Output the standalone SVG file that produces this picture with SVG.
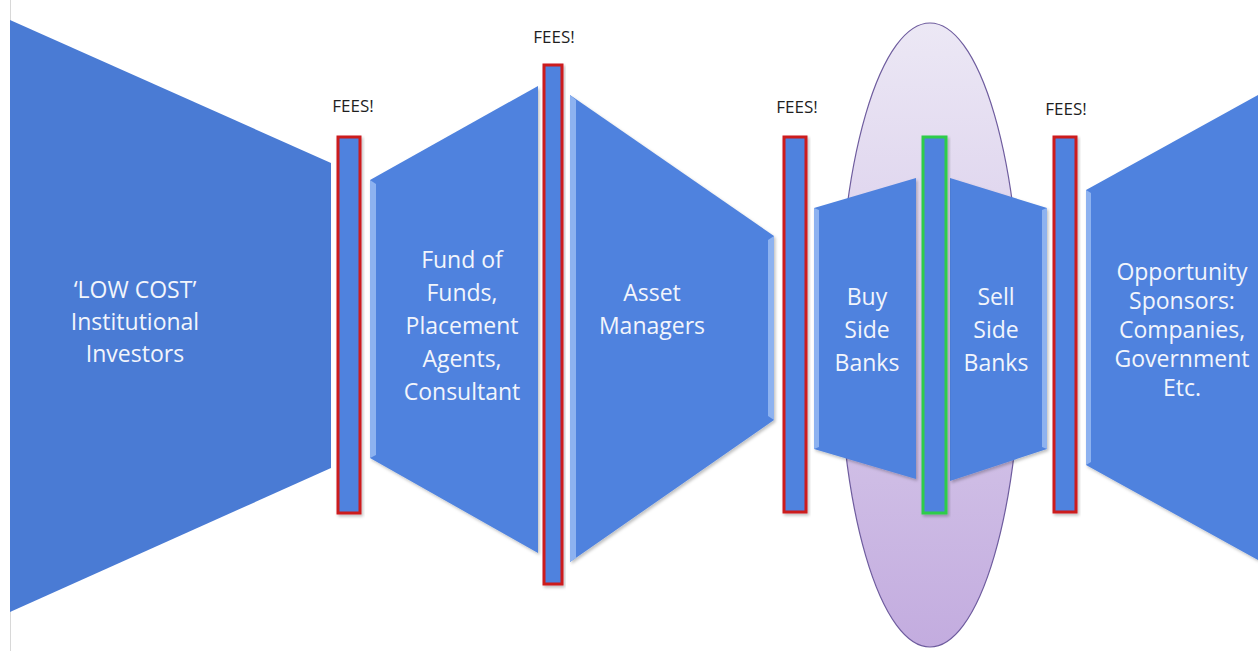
<svg xmlns="http://www.w3.org/2000/svg" width="1258" height="651" viewBox="0 0 1258 651">
<defs>
<linearGradient id="ellG" x1="0" y1="0" x2="0" y2="1">
<stop offset="0" stop-color="#ece8f5"/>
<stop offset="1" stop-color="#c3acdf"/>
</linearGradient>
<filter id="sh" x="-10%" y="-10%" width="130%" height="130%">
<feDropShadow dx="1.5" dy="2" stdDeviation="1.5" flood-color="#000" flood-opacity="0.25"/>
</filter>
<style>
.blk{fill:#4a7bd4;}
.trap{fill:#4f82de;filter:url(#sh);}
.bev{fill:#8db2f0;}
.bar{fill:#4f82de;stroke-width:3;filter:url(#sh);}
.red{stroke:#cc1a1f;}
.grn{stroke:#2ecc4a;}
.lbl{font-family:"Open Sans","Noto Sans",sans-serif;fill:#f2f5fc;text-anchor:middle;font-size:23px;}
.fee{font-family:"Open Sans","Noto Sans",sans-serif;fill:#1f1f1f;font-size:17px;text-anchor:middle;}
</style>
</defs>
<rect width="1258" height="651" fill="#ffffff"/>
<line x1="10.5" y1="0" x2="10.5" y2="651" stroke="#d8d8d8" stroke-width="1"/>

<g id="ellipse-banks">
<ellipse cx="930" cy="335" rx="91" ry="312" fill="url(#ellG)" stroke="#6e5c9e" stroke-width="1.2"/>
</g>

<g id="node-investors">
<polygon class="blk" points="10,20 331,163 331,468 10,612"/>
<text class="lbl" font-size="24" x="135" y="298">‘LOW COST’</text>
<text class="lbl" font-size="24" x="135" y="330">Institutional</text>
<text class="lbl" font-size="24" x="135" y="362">Investors</text>
</g>

<g id="node-fund">
<polygon class="trap" points="370,180 538,86 538,553 370,458"/>
<polygon class="bev" points="370,180 376,184 376,455 370,458"/>
<text class="lbl" x="462" y="268">Fund of</text>
<text class="lbl" x="462" y="301">Funds,</text>
<text class="lbl" x="462" y="334">Placement</text>
<text class="lbl" x="462" y="367">Agents,</text>
<text class="lbl" x="462" y="400">Consultant</text>
</g>

<g id="node-asset">
<polygon class="trap" points="570,95 774,236 774,420 570,562"/>
<polygon class="bev" points="570,95 576,100 576,558 570,562"/>
<polygon class="bev" points="768,240 774,236 774,420 768,416"/>
<text class="lbl" x="652" y="301">Asset</text>
<text class="lbl" x="652" y="334">Managers</text>
</g>

<g id="node-buy">
<polygon class="trap" points="814,208 916,178 916,479 814,449"/>
<polygon class="bev" points="814,208 819,210 819,447 814,449"/>
<text class="lbl" x="867" y="305">Buy</text>
<text class="lbl" x="867" y="338">Side</text>
<text class="lbl" x="867" y="371">Banks</text>
</g>

<g id="node-sell">
<polygon class="trap" points="950,178 1047,208 1047,449 950,481"/>
<polygon class="bev" points="1042,210 1047,208 1047,449 1042,447"/>
<text class="lbl" x="996" y="305">Sell</text>
<text class="lbl" x="996" y="338">Side</text>
<text class="lbl" x="996" y="371">Banks</text>
</g>

<g id="node-sponsors">
<polygon class="trap" points="1086,190 1258,95 1258,560 1086,465"/>
<polygon class="bev" points="1086,190 1091,193 1091,462 1086,465"/>
<text class="lbl" font-size="21" x="1182" y="280">Opportunity</text>
<text class="lbl" font-size="21" x="1182" y="309">Sponsors:</text>
<text class="lbl" font-size="21" x="1182" y="338">Companies,</text>
<text class="lbl" font-size="21" x="1182" y="367">Government</text>
<text class="lbl" font-size="21" x="1182" y="396">Etc.</text>
</g>

<g id="fee-1">
<rect class="bar red" x="338" y="137" width="22" height="376"/>
<text class="fee" x="353" y="112">FEES!</text>
</g>
<g id="fee-2">
<rect class="bar red" x="544" y="65" width="18" height="519"/>
<text class="fee" x="554" y="43">FEES!</text>
</g>
<g id="fee-3">
<rect class="bar red" x="784" y="137" width="22" height="375"/>
<text class="fee" x="797" y="113">FEES!</text>
</g>
<g id="fee-bank">
<rect class="bar grn" x="923" y="137" width="23" height="376"/>
</g>
<g id="fee-4">
<rect class="bar red" x="1054" y="137" width="22" height="375"/>
<text class="fee" x="1066" y="115">FEES!</text>
</g>

<g id="connectors"/>
</svg>
